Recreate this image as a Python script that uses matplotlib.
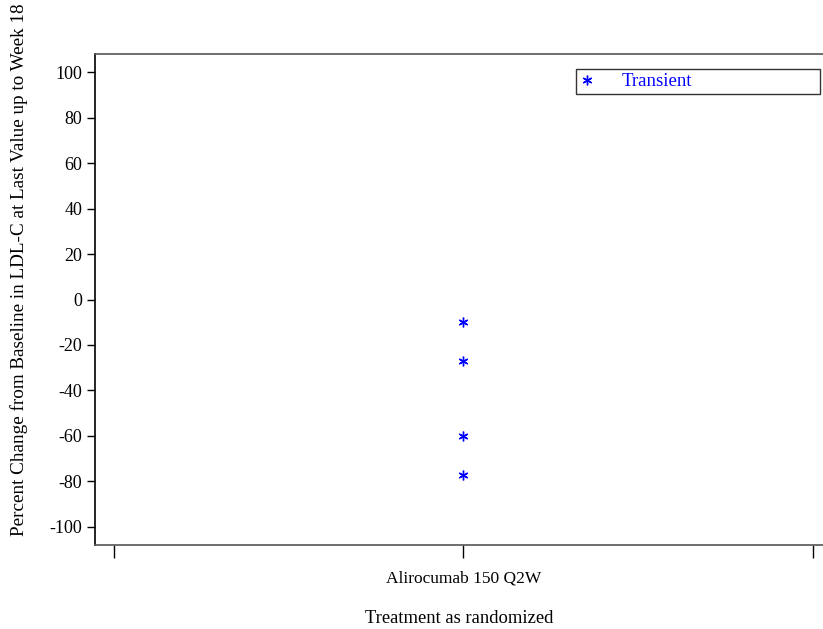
import matplotlib
matplotlib.use("Agg")
import matplotlib.pyplot as plt

plt.rcParams['font.family'] = ['Liberation Serif', 'DejaVu Serif']

# data
groups = ['', 'Alirocumab 150 Q2W', '']
group_pos = [0, 1, 2]
transient_x = [1, 1, 1, 1]
transient_y = [-10, -27, -60, -77]
yticks = [100, 80, 60, 40, 20, 0, -20, -40, -60, -80, -100]

fig = plt.figure(figsize=(8.23, 6.29), dpi=100)
ax = fig.add_axes([0.1154, 0.1335, 0.8846, 0.7806])

ax.plot(transient_x, transient_y, linestyle='none', marker=(6, 2, 0),
        markersize=7, markeredgewidth=1.0, color='blue', label='Transient')

ax.set_xlim(-0.055, 2.03)
ax.set_ylim(-108, 108)
ax.set_yticks(yticks)
ax.set_yticklabels([str(v) for v in yticks], fontsize=13)
ax.set_xticks(group_pos)
ax.set_xticklabels(groups, fontsize=12.5)

ax.tick_params(axis='y', direction='out', length=6, width=1, pad=3)
ax.tick_params(axis='x', direction='out', length=9, width=1, pad=9)

ax.spines['right'].set_visible(False)
ax.spines['left'].set_color('black')
ax.spines['top'].set_color('#555555')
ax.spines['bottom'].set_color('#555555')
for s in ax.spines.values():
    s.set_linewidth(1.2)

ax.set_xlabel('Treatment as randomized', fontsize=13.4, labelpad=17)
ax.set_ylabel('Percent Change from Baseline in LDL-C at Last Value up to Week 18',
              fontsize=13.8)
ax.yaxis.set_label_coords(-0.092, 0.56)

leg = ax.legend(loc='center left', bbox_to_anchor=(0.661, 0.9165, 0.335, 0.055),
                mode='expand', fontsize=13.5,
                frameon=True, fancybox=False, edgecolor='black', borderpad=0.2,
                handlelength=0.8, handletextpad=1.4, borderaxespad=0)
leg.get_frame().set_linewidth(1.0)
for t in leg.get_texts():
    t.set_color('blue')

fig.savefig('out.png', dpi=100)
